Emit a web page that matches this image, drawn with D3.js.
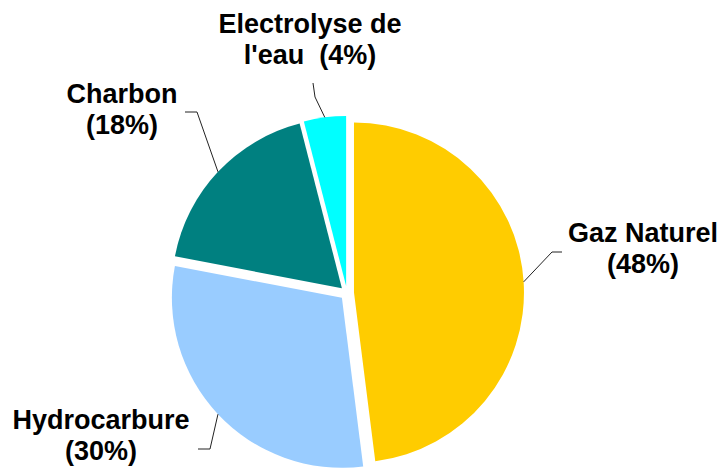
<!DOCTYPE html>
<html>
<head>
<meta charset="utf-8">
<script src="https://cdn.jsdelivr.net/npm/d3@7"></script>
<style>
  html, body { margin: 0; padding: 0; background: #ffffff; }
  svg { display: block; }
  text { font-family: "Liberation Sans", Arial, sans-serif; font-weight: bold; fill: #000; white-space: pre; }
</style>
</head>
<body>
<svg id="chart" width="723" height="473"></svg>
<script>
// ---- data ----
const categories = ["Gaz Naturel", "Hydrocarbure", "Charbon", "Electrolyse de l'eau"];
const values = [48, 30, 18, 4];
const labelLines = [
  ["Gaz Naturel", "(48%)"],
  ["Hydrocarbure", "(30%)"],
  ["Charbon", "(18%)"],
  ["Electrolyse de", "l'eau  (4%)"]
];
const colors = ["#FFCC00", "#99CCFF", "#008080", "#00FFFF"];

// ---- layout ----
const cx = 347, cy = 293, radius = 170, explode = 7;
const fontSize = 27, lineGap = 31;
// label anchor (center x, first baseline y) and leader elbow / end
const labelLayout = [
  { x: 643, y: 242, elbow: [552, 252], end: [562, 252] },
  { x: 101, y: 429, elbow: [210, 449], end: [198, 449] },
  { x: 122, y: 103, elbow: [197, 112], end: [185, 112] },
  { x: 310, y: 33,  elbow: [315, 97],  end: [313, 83] }
];

const svg = d3.select("#chart");
const data = categories.map((c, i) => ({ name: c, value: values[i], i }));

const pie = d3.pie().sort(null).value(d => d.value).startAngle(0).endAngle(2 * Math.PI);
const arcs = pie(data);
const arc = d3.arc().innerRadius(0).outerRadius(radius);

const g = svg.append("g").attr("transform", `translate(${cx},${cy})`);

function offset(a) {
  const mid = (a.startAngle + a.endAngle) / 2;
  return [explode * Math.sin(mid), -explode * Math.cos(mid)];
}

g.selectAll("path.slice")
  .data(arcs)
  .enter()
  .append("path")
  .attr("class", "slice")
  .attr("d", arc)
  .attr("fill", (d, i) => colors[i])
  .attr("transform", d => {
    const o = offset(d);
    return `translate(${o[0]},${o[1]})`;
  });

// leader lines
arcs.forEach((a, i) => {
  const mid = (a.startAngle + a.endAngle) / 2;
  const o = offset(a);
  const sx = cx + o[0] + radius * Math.sin(mid);
  const sy = cy + o[1] - radius * Math.cos(mid);
  const L = labelLayout[i];
  svg.append("polyline")
    .attr("points", [[sx, sy], L.elbow, L.end].map(p => p.join(",")).join(" "))
    .attr("fill", "none")
    .attr("stroke", "#222")
    .attr("stroke-width", 1);
});

// labels
labelLines.forEach((lines, i) => {
  const L = labelLayout[i];
  const t = svg.append("text")
    .attr("text-anchor", "middle")
    .attr("font-size", fontSize);
  lines.forEach((ln, j) => {
    t.append("tspan")
      .attr("x", L.x)
      .attr("y", L.y + j * lineGap)
      .text(ln);
  });
});
</script>
</body>
</html>
